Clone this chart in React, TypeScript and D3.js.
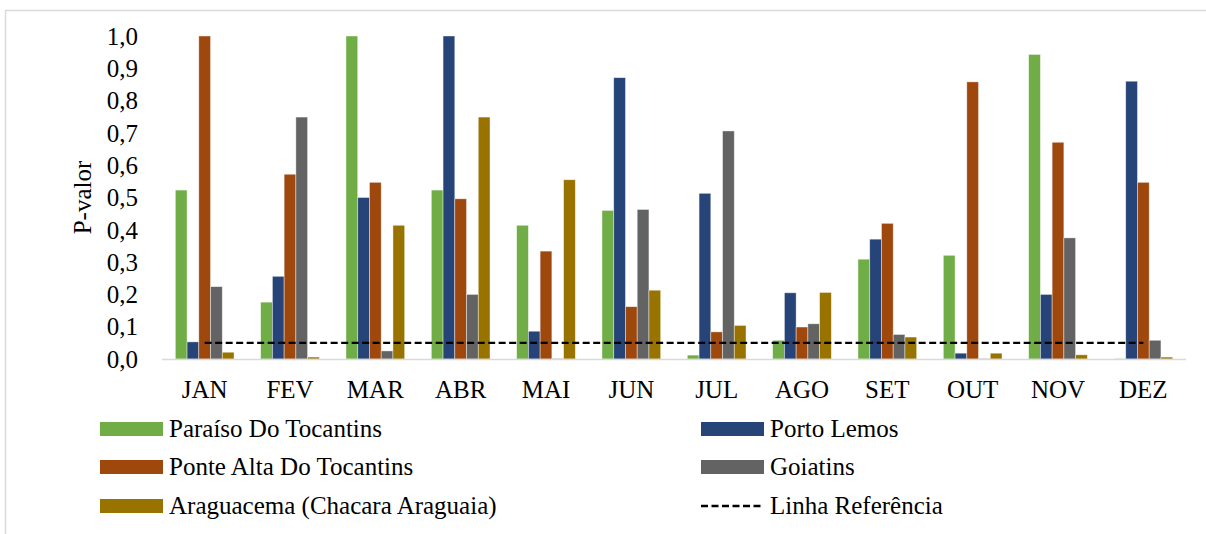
import React, { useRef, useEffect } from "react";
import * as d3 from "d3";

const months = ["JAN", "FEV", "MAR", "ABR", "MAI", "JUN", "JUL", "AGO", "SET", "OUT", "NOV", "DEZ"];

const seriesNames = [
  "Paraíso Do Tocantins",
  "Porto Lemos",
  "Ponte Alta Do Tocantins",
  "Goiatins",
  "Araguacema (Chacara Araguaia)",
];

const paraiso = [0.523, 0.176, 1.0, 0.523, 0.414, 0.46, 0.012, 0.058, 0.309, 0.321, 0.943, 0.001];
const portoLemos = [0.053, 0.256, 0.5, 1.0, 0.086, 0.871, 0.513, 0.205, 0.371, 0.018, 0.2, 0.86];
const ponteAlta = [1.0, 0.572, 0.547, 0.496, 0.334, 0.162, 0.084, 0.099, 0.42, 0.858, 0.671, 0.547];
const goiatins = [0.224, 0.749, 0.025, 0.2, 0.001, 0.463, 0.706, 0.109, 0.076, 0.001, 0.375, 0.058];
const araguacema = [0.021, 0.006, 0.414, 0.749, 0.555, 0.213, 0.104, 0.206, 0.068, 0.018, 0.013, 0.006];

const referenceValue = 0.05;
const referenceLabel = "Linha Referência";
const yTicks = [0, 0.1, 0.2, 0.3, 0.4, 0.5, 0.6, 0.7, 0.8, 0.9, 1.0];

const colors = ["#70AD47", "#264478", "#9E480E", "#636363", "#997300"];

const width = 1206;
const height = 534;
const margin = { top: 36, right: 20, bottom: 175, left: 162 };
const font = "Liberation Serif, Times New Roman, serif";
const fontSize = "25px";

const App: React.FC = () => {
  const svgRef = useRef<SVGSVGElement | null>(null);

  useEffect(() => {
    if (!svgRef.current) return;
    const svg = d3.select(svgRef.current);
    svg.selectAll("*").remove();

    const values = [paraiso, portoLemos, ponteAlta, goiatins, araguacema];
    const plotRight = 1186;
    const plotBottom = 359;

    // chart border (only top/left visible in the crop)
    svg
      .append("rect")
      .attr("x", 5.5)
      .attr("y", 10.5)
      .attr("width", width + 20)
      .attr("height", height + 20)
      .attr("fill", "white")
      .attr("stroke", "#d9d9d9")
      .attr("stroke-width", 1.5);

    const x = d3.scaleBand<string>().domain(months).range([margin.left, plotRight]).padding(0);
    const step = x.bandwidth();
    const barW = step / (5 + 2.27);
    const gap = step - barW * 5;
    const x1 = d3
      .scaleBand<number>()
      .domain(d3.range(5))
      .range([gap / 2, step - gap / 2])
      .padding(0);

    const y = d3.scaleLinear().domain([0, 1]).range([plotBottom, margin.top]);

    // y axis labels
    const yAxis = d3
      .axisLeft(y)
      .tickValues(yTicks)
      .tickSize(0)
      .tickPadding(0)
      .tickFormat((d) => d3.format(".1f")(Number(d)).replace(".", ","));

    const yg = svg.append("g").attr("transform", `translate(138,0)`).call(yAxis);
    yg.select(".domain").remove();
    yg.selectAll("text")
      .attr("font-family", font)
      .attr("font-size", fontSize)
      .attr("fill", "#000")
      .attr("dy", "0.33em");
    yg.attr("font-family", font).attr("font-size", fontSize);

    svg
      .append("text")
      .attr("transform", `translate(91,${(plotBottom + margin.top) / 2}) rotate(-90)`)
      .attr("text-anchor", "middle")
      .attr("font-family", font)
      .attr("font-size", fontSize)
      .attr("fill", "#000")
      .text("P-valor");

    // bars
    values.forEach((vals, si) => {
      svg
        .append("g")
        .selectAll("rect")
        .data(vals)
        .enter()
        .append("rect")
        .attr("x", (_, i) => (x(months[i]) as number) + (x1(si) as number))
        .attr("y", (d) => y(d))
        .attr("width", x1.bandwidth())
        .attr("height", (d) => plotBottom - y(d))
        .attr("fill", colors[si])
        .attr("stroke", "#ffffff")
        .attr("stroke-opacity", 0.55)
        .attr("stroke-width", 0.75);
    });

    // baseline
    svg
      .append("line")
      .attr("x1", margin.left)
      .attr("x2", plotRight)
      .attr("y1", plotBottom + 0.5)
      .attr("y2", plotBottom + 0.5)
      .attr("stroke", "#d9d9d9")
      .attr("stroke-width", 1.5);

    // reference line
    svg
      .append("line")
      .attr("x1", (x(months[0]) as number) + step / 2)
      .attr("x2", (x(months[months.length - 1]) as number) + step / 2)
      .attr("y1", y(referenceValue))
      .attr("y2", y(referenceValue))
      .attr("stroke", "#000")
      .attr("stroke-width", 2.3)
      .attr("stroke-dasharray", "7,3.5");

    // x labels
    svg
      .append("g")
      .selectAll("text")
      .data(months)
      .enter()
      .append("text")
      .attr("x", (d) => (x(d) as number) + step / 2)
      .attr("y", plotBottom + 39)
      .attr("text-anchor", "middle")
      .attr("font-family", font)
      .attr("font-size", fontSize)
      .attr("fill", "#000")
      .text((d) => d);

    // legend
    const legendItems = [
      { label: seriesNames[0], color: colors[0], dashed: false, col: 0, row: 0 },
      { label: seriesNames[1], color: colors[1], dashed: false, col: 1, row: 0 },
      { label: seriesNames[2], color: colors[2], dashed: false, col: 0, row: 1 },
      { label: seriesNames[3], color: colors[3], dashed: false, col: 1, row: 1 },
      { label: seriesNames[4], color: colors[4], dashed: false, col: 0, row: 2 },
      { label: referenceLabel, color: "#000", dashed: true, col: 1, row: 2 },
    ];
    const colX = [100, 701];
    const rowY = [429, 467, 506];

    const lg = svg.append("g");
    legendItems.forEach((it) => {
      const gx = colX[it.col];
      const gy = rowY[it.row];
      if (it.dashed) {
        lg.append("line")
          .attr("x1", gx)
          .attr("x2", gx + 63)
          .attr("y1", gy)
          .attr("y2", gy)
          .attr("stroke", "#000")
          .attr("stroke-width", 2.3)
          .attr("stroke-dasharray", "7,3.5");
      } else {
        lg.append("rect")
          .attr("x", gx)
          .attr("y", gy - 7)
          .attr("width", 63)
          .attr("height", 14)
          .attr("fill", it.color);
      }
      lg.append("text")
        .attr("x", gx + 69)
        .attr("y", gy)
        .attr("dy", "0.33em")
        .attr("font-family", font)
        .attr("font-size", fontSize)
        .attr("fill", "#000")
        .text(it.label);
    });
  }, []);

  return (
    <svg
      ref={svgRef}
      width={width}
      height={height}
      style={{ position: "absolute", left: 0, top: 0, background: "#fff" }}
    />
  );
};

export default App;
